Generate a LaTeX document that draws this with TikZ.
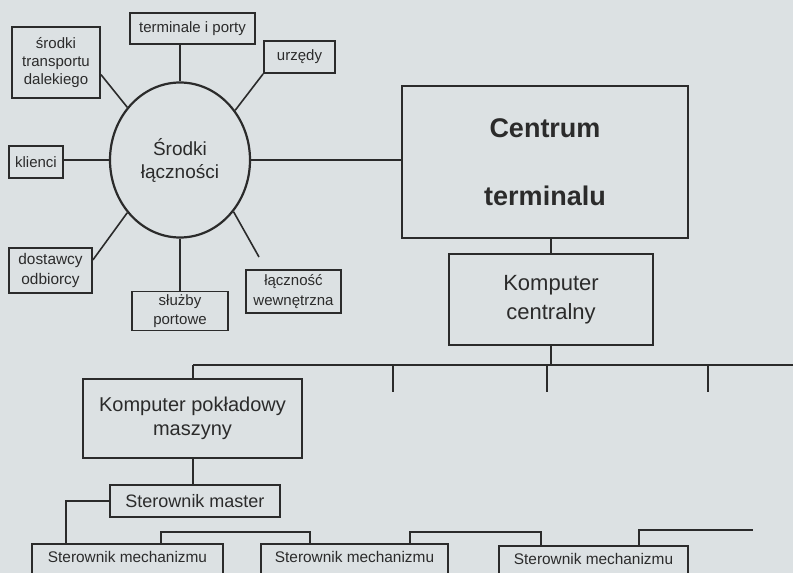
\documentclass[tikz,border=0pt]{standalone}
\usepackage{fontspec}
\setmainfont{Liberation Sans}
\usetikzlibrary{shapes.geometric, positioning}
\definecolor{paper}{HTML}{DCE1E3}
\definecolor{ink}{HTML}{2B2B2B}

\begin{document}
\begin{tikzpicture}[x=1pt, y=-1pt,
  smallbox/.style={rectangle, draw=ink, line width=1.8pt, inner sep=0pt, align=center, text=ink, font=\fontsize{15}{18}\selectfont},
  bigbox/.style={rectangle, draw=ink, line width=2.6pt, inner sep=0pt, align=center, text=ink},
  mechbox/.style={rectangle, draw=ink, line width=1.8pt, anchor=north, inner xsep=0pt, inner ysep=5pt, text height=14pt, text depth=40pt, text=ink, font=\fontsize{15.4}{18}\selectfont},
  link/.style={draw=ink, line width=1.6pt}]
\useasboundingbox (0,0) rectangle (793,573);
\clip (0,0) rectangle (793,573);
\fill[paper] (0,0) rectangle (793,573);

% communication ring
\node[ellipse, draw=ink, line width=2.2pt, minimum width=140, minimum height=155, inner sep=0pt, align=center, text=ink, font=\fontsize{19}{23}\selectfont] (circ) at (180,160) {Środki\\łączności};
\node[smallbox, minimum width=88, minimum height=71] (trans) at (56,62.5) {środki\\transportu\\dalekiego};
\node[smallbox, minimum width=125, minimum height=31] (term) at (192.5,28.5) {terminale i porty};
\node[smallbox, minimum width=71, minimum height=32] (urz) at (299.5,57) {urzędy};
\node[smallbox, minimum width=54, minimum height=32] (kli) at (36,162) {klienci};
\node[smallbox, minimum width=83, minimum height=45, font=\fontsize{15.4}{20}\selectfont] (dost) at (50.5,270.5) {dostawcy\\odbiorcy};
\node[smallbox, minimum width=96, minimum height=39, font=\fontsize{15}{19}\selectfont] (sluz) at (180,311) {służby\\portowe};
\node[smallbox, minimum width=95, minimum height=43, font=\fontsize{15}{20}\selectfont] (lacz) at (293.5,291.5) {łączność\\wewnętrzna};
\coordinate (laczend) at (259,257);

% terminal centre and computers
\node[bigbox, minimum width=286, minimum height=152, font=\fontsize{27}{68}\selectfont\bfseries] (centrum) at (545,162) {Centrum\\terminalu};
\node[bigbox, minimum width=204, minimum height=91, font=\fontsize{22}{29}\selectfont] (kcent) at (551,299.5) {Komputer\\centralny};
\node[bigbox, minimum width=219, minimum height=79, font=\fontsize{20}{24}\selectfont] (kpok) at (192.5,418.5) {Komputer pokładowy\\maszyny};
\node[smallbox, minimum width=170, minimum height=32, font=\fontsize{18}{22}\selectfont] (master) at (195,501) {Sterownik master};
\node[mechbox, minimum width=191] (mech1) at (127.5,543) {Sterownik mechanizmu};
\node[mechbox, minimum width=187] (mech2) at (354.5,543) {Sterownik mechanizmu};
\node[mechbox, minimum width=189] (mech3) at (593.5,545) {Sterownik mechanizmu};

% bus
\coordinate (busL) at (193,365);
\coordinate (busR) at (793,365);
\coordinate (drop1) at (393,392);
\coordinate (drop2) at (547,392);
\coordinate (drop3) at (708,392);
\coordinate (tail3) at (753,530);

\draw[link] (circ.135) -- (trans.-15);
\draw[link] (circ.north) -- (circ.north |- term.south);
\draw[link] (circ.42) -- (urz.south west);
\draw[link] (circ.west) -- (circ.west -| kli.east);
\draw[link] (circ.225) -- (dost.14);
\draw[link] (circ.south) -- (sluz.north);
\draw[link] (circ.-44) -- (laczend);
\draw[link] (circ.east) -- (circ.east -| centrum.west);

\draw[link] (centrum.south -| kcent.north) -- (kcent.north);
\draw[link] (kcent.south) -- (kcent.south |- busL);
\draw[link] (busL) -- (busR);
\draw[link] (busL) -- (kpok.north -| busL);
\draw[link] (drop1 |- busL) -- (drop1);
\draw[link] (drop2 |- busL) -- (drop2);
\draw[link] (drop3 |- busL) -- (drop3);

\draw[link] (kpok.south -| busL) -- (master.north -| busL);
\draw[link] (master.west) -| ([xshift=35]mech1.north west);
\draw[link] ([xshift=130]mech1.north west) -- ++(0,-11) -| ([xshift=50]mech2.north west);
\draw[link] ([xshift=150]mech2.north west) -- ++(0,-11) -| ([xshift=43]mech3.north west);
\draw[link] ([xshift=141]mech3.north west) |- (tail3);
\end{tikzpicture}
\end{document}
